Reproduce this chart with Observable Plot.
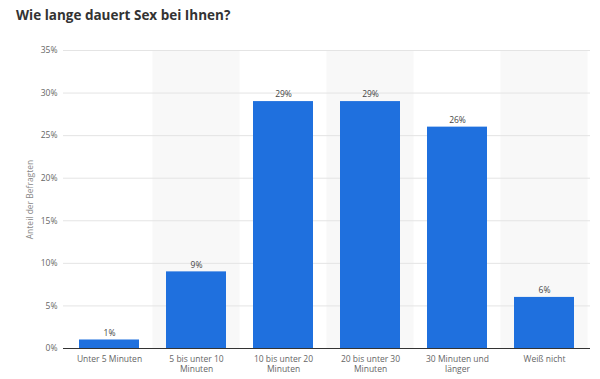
<!DOCTYPE html>
<html><head><meta charset="utf-8">
<script src="https://cdn.jsdelivr.net/npm/d3@7"></script>
<script src="https://cdn.jsdelivr.net/npm/@observablehq/plot@0.6"></script>
<style>
body{margin:0;background:#fff;font-family:"Open Sans",sans-serif;}
#title{height:36px;box-sizing:border-box;padding:6px 0 0 16px;font-size:13.5px;font-weight:bold;color:#333;}
</style></head><body>
<div id="title">Wie lange dauert Sex bei Ihnen?</div>
<div id="chart"></div>
<script>
const categories = ["Unter 5 Minuten","5 bis unter 10 Minuten","10 bis unter 20 Minuten","20 bis unter 30 Minuten","30 Minuten und länger","Weiß nicht"];
const labelLines = [["Unter 5 Minuten"],["5 bis unter 10","Minuten"],["10 bis unter 20","Minuten"],["20 bis unter 30","Minuten"],["30 Minuten und","länger"],["Weiß nicht"]];
const values = [1, 9, 29, 29, 26, 6];
const yTicks = [0, 5, 10, 15, 20, 25, 30, 35];

const data = categories.map((c, i) => ({cat: c, value: values[i]}));
const shaded = categories.filter((c, i) => i % 2 === 1);
const labelMap = new Map(categories.map((c, i) => [c, labelLines[i].join("\n")]));

const W = 600, ML = 63, MR = 10, PAD = 0.31;
const step = (W - ML - MR) / categories.length;
const halfGap = step * PAD / 2;

const chart = Plot.plot({
  width: W,
  height: 343,
  marginTop: 14,
  marginBottom: 31,
  marginLeft: ML,
  marginRight: MR,
  style: {fontFamily: "Open Sans, sans-serif", fontSize: "8.5px", color: "#555", background: "#fff"},
  x: {domain: categories, paddingInner: PAD, paddingOuter: PAD / 2, label: null},
  y: {domain: [0, 35], label: null},
  marks: [
    Plot.barY(shaded, {x: d => d, y1: 0, y2: 35, fill: "#f8f8f8", insetLeft: -halfGap, insetRight: -halfGap}),
    Plot.gridY(yTicks, {stroke: "#e4e4e4", strokeOpacity: 1}),
    Plot.barY(data, {x: "cat", y: "value", fill: "#1f70de"}),
    Plot.text(data, {x: "cat", y: "value", text: d => d.value + "%", dy: -7, fill: "#444", fontSize: 8.5}),
    Plot.ruleY([0], {stroke: "#333", strokeWidth: 1.2}),
    Plot.axisY(yTicks, {tickSize: 0, tickPadding: 6, tickFormat: d => d + "%", fill: "#666", fontSize: 8.5}),
    Plot.axisX({tickSize: 0, tickPadding: 7, tickFormat: c => labelMap.get(c), fill: "#666", fontSize: 8.5, lineHeight: 1.15}),
    Plot.text(["Anteil der Befragten"], {frameAnchor: "left", textAnchor: "middle", dx: -33, rotate: -90, fill: "#888", fontSize: 8.5})
  ]
});
document.getElementById("chart").appendChild(chart);
</script>
</body></html>
